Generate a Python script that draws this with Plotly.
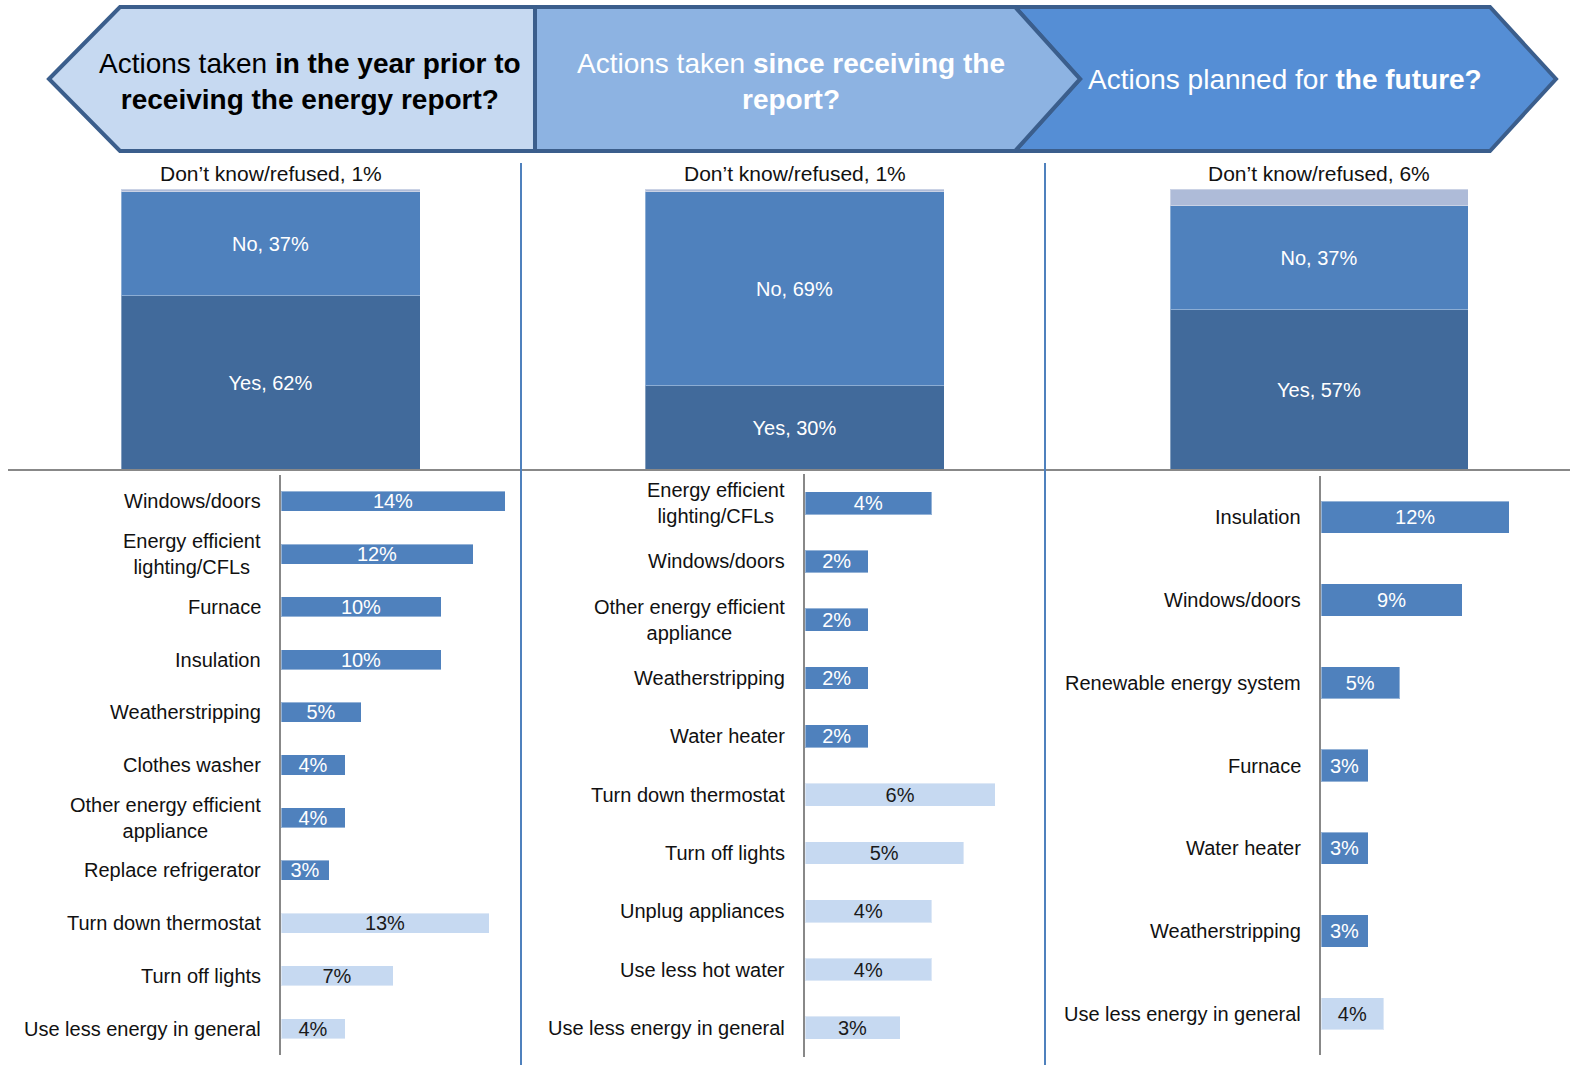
import plotly.graph_objects as go

W, H = 1570, 1065
FONT = "Liberation Sans, Arial, sans-serif"

# ---- data -------------------------------------------------------------
header_texts = [
    "Actions taken <b>in the year prior to</b><br><b>receiving the energy report?</b>",
    "Actions taken <b>since receiving the</b><br><b>report?</b>",
    "Actions planned for <b>the future?</b>",
]

yes_pct = [62, 30, 57]
no_pct = [37, 69, 37]
dk_pct = [1, 1, 6]

prior_actions = ["Windows/doors", "Energy efficient<br>lighting/CFLs", "Furnace",
                 "Insulation", "Weatherstripping", "Clothes washer",
                 "Other energy efficient<br>appliance", "Replace refrigerator",
                 "Turn down thermostat", "Turn off lights", "Use less energy in general"]
prior_values = [14, 12, 10, 10, 5, 4, 4, 3, 13, 7, 4]
prior_kind = ["equip", "equip", "equip", "equip", "equip", "equip", "equip", "equip",
              "behav", "behav", "behav"]

since_actions = ["Energy efficient<br>lighting/CFLs", "Windows/doors",
                 "Other energy efficient<br>appliance", "Weatherstripping", "Water heater",
                 "Turn down thermostat", "Turn off lights", "Unplug appliances",
                 "Use less hot water", "Use less energy in general"]
since_values = [4, 2, 2, 2, 2, 6, 5, 4, 4, 3]
since_kind = ["equip", "equip", "equip", "equip", "equip",
              "behav", "behav", "behav", "behav", "behav"]

future_actions = ["Insulation", "Windows/doors", "Renewable energy system", "Furnace",
                  "Water heater", "Weatherstripping", "Use less energy in general"]
future_values = [12, 9, 5, 3, 3, 3, 4]
future_kind = ["equip", "equip", "equip", "equip", "equip", "equip", "behav"]

# ---- styling ----------------------------------------------------------
C_YES, C_NO, C_DK = "#416A9B", "#4F81BD", "#AEBBD8"
KIND_FILL = {"equip": "#4F81BD", "behav": "#C6D9F1"}
KIND_TEXT = {"equip": "white", "behav": "#1a1a1a"}


def px_x(a, b):
    return [a / W, b / W]


def px_y(top, bottom):
    return [1 - bottom / H, 1 - top / H]


def pt(x, y):
    return f"{x / W:.5f},{1 - y / H:.5f}"


fig = go.Figure()

# ---- overall yes / no stacked columns --------------------------------
top_x = [(121, 420), (645, 944), (1170, 1468)]
for i in range(3):
    sx = "" if i == 0 else str(i + 1)
    for name, vals, col in (("Yes", yes_pct, C_YES), ("No", no_pct, C_NO),
                            ("Don’t know/refused", dk_pct, C_DK)):
        v = vals[i]
        show = name != "Don’t know/refused"
        fig.add_bar(
            x=[0], y=[v], width=1, marker_color=col,
            marker_line=dict(color="rgba(255,255,255,0.35)", width=1),
            text=[f"{name}, {v}%"] if show else [""],
            textposition="inside", insidetextanchor="middle", constraintext="none",
            textfont=dict(color="white", size=20, family=FONT),
            xaxis="x" + sx, yaxis="y" + sx, hoverinfo="skip",
        )
    fig.add_annotation(
        x=0, y=yes_pct[i] + no_pct[i] + dk_pct[i], xref="x" + sx, yref="y" + sx,
        text=f"Don’t know/refused, {dk_pct[i]}%", showarrow=False,
        yanchor="bottom", yshift=2, font=dict(size=21, color="#111", family=FONT),
    )
    fig.layout["xaxis" + sx] = dict(domain=px_x(*top_x[i]), range=[-0.5, 0.5],
                                     visible=False, anchor="y" + sx)
    fig.layout["yaxis" + sx] = dict(domain=px_y(189, 470), range=[0, 100],
                                     visible=False, anchor="x" + sx)

# ---- action detail bars ----------------------------------------------
panels = [
    dict(cats=prior_actions, vals=prior_values, kind=prior_kind,
         x0=281, x1=517, ppu=16.0, ytop=475, ybot=1055, bw=0.38),
    dict(cats=since_actions, vals=since_values, kind=since_kind,
         x0=805, x1=1040, ppu=31.7, ytop=474, ybot=1057, bw=0.39),
    dict(cats=future_actions, vals=future_values, kind=future_kind,
         x0=1321, x1=1566, ppu=15.7, ytop=476, ybot=1055, bw=0.39),
]
for j, p in enumerate(panels):
    sx = str(j + 4)
    fig.add_bar(
        y=p["cats"], x=p["vals"], orientation="h", width=p["bw"],
        marker=dict(color=[KIND_FILL[k] for k in p["kind"]],
                    line=dict(color="rgba(255,255,255,0.4)", width=1)),
        texttemplate="%{x}%", textposition="inside", insidetextanchor="middle",
        constraintext="none",
        textfont=dict(color=[KIND_TEXT[k] for k in p["kind"]], size=20, family=FONT),
        xaxis="x" + sx, yaxis="y" + sx, hoverinfo="skip",
    )
    fig.layout["xaxis" + sx] = dict(domain=px_x(p["x0"], p["x1"]),
                                     range=[0, (p["x1"] - p["x0"]) / p["ppu"]],
                                     visible=False, anchor="y" + sx)
    fig.layout["yaxis" + sx] = dict(domain=px_y(p["ytop"], p["ybot"]), type="category",
                                     autorange="reversed", showline=True,
                                     linecolor="#888888", linewidth=2, ticks="",
                                     showticklabels=False, showgrid=False,
                                     zeroline=False, anchor="x" + sx)
    for c in p["cats"]:
        fig.add_annotation(
            x=(p["x0"] - 18) / W, y=c, xref="paper", yref="y" + sx, text=c,
            showarrow=False, xanchor="right", align="center",
            font=dict(size=20, color="#111", family=FONT),
        )

# ---- header chevrons ---------------------------------------------------
BORDER = "#3B5E8C"
chevrons = [
    ("#558ED5", [(1015, 7), (1490, 7), (1556, 79), (1490, 151), (1015, 151), (1080, 79)]),
    ("#8DB3E2", [(535, 7), (1015, 7), (1080, 79), (1015, 151), (535, 151)]),
    ("#C6D9F1", [(49, 79), (120, 7), (535, 7), (535, 151), (120, 151)]),
]
shapes = []
for fill, pts in chevrons:
    path = "M " + " L ".join(pt(x, y) for x, y in pts) + " Z"
    shapes.append(dict(type="path", xref="paper", yref="paper", path=path,
                       fillcolor=fill, line=dict(color=BORDER, width=4), layer="above"))

# separators
shapes.append(dict(type="line", xref="paper", yref="paper",
                   x0=8 / W, x1=1, y0=1 - 470 / H, y1=1 - 470 / H,
                   line=dict(color="#888888", width=2)))
for xv in (521, 1045):
    shapes.append(dict(type="line", xref="paper", yref="paper",
                       x0=xv / W, x1=xv / W, y0=0, y1=1 - 163 / H,
                       line=dict(color="#4F81BD", width=2)))

header_pos = [(310, 81, "#000000"), (791, 81, "#FFFFFF"), (1285, 80, "#FFFFFF")]
for txt, (hx, hy, col) in zip(header_texts, header_pos):
    fig.add_annotation(x=hx / W, y=1 - hy / H, xref="paper", yref="paper", text=txt,
                       showarrow=False, xanchor="center", yanchor="middle",
                       align="center", font=dict(size=28, color=col, family=FONT))

fig.update_layout(
    width=W, height=H, margin=dict(l=0, r=0, t=0, b=0),
    paper_bgcolor="white", plot_bgcolor="white",
    barmode="stack", showlegend=False, shapes=shapes,
    font=dict(family=FONT),
)

fig.write_html("out.html")
